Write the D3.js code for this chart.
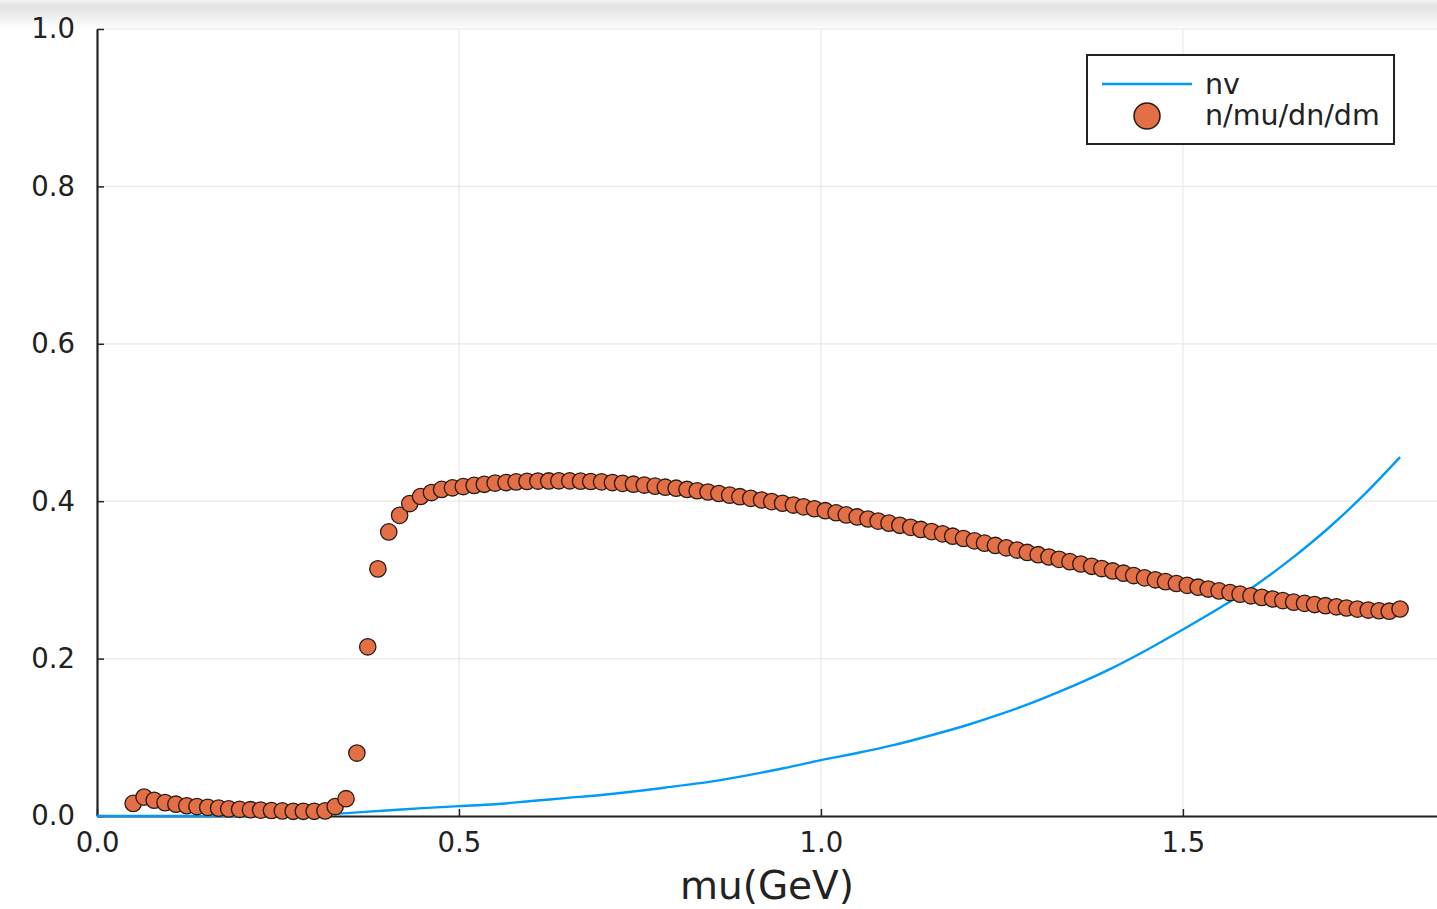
<!DOCTYPE html>
<html lang="en">
<head>
    <meta charset="UTF-8">
    <title>nv und n/mu/dn/dm</title>
    <script src="https://d3js.org/d3.v7.min.js"></script>
    <style>
        body {
            margin: 0;
            background: #fff;
        }
        svg {
            display: block;
            font-family: "DejaVu Sans", sans-serif;
        }
        .grid line {
            stroke: #e8e8e8;
            stroke-width: 1.2;
        }
        .axis path, .axis line {
            stroke: #222;
        }
        .axis text {
            fill: #222;
            font-size: 27.5px;
            font-family: "DejaVu Sans", sans-serif;
        }
    </style>
</head>
<body>
<div id="chart"></div>
<script>
    const width = 1437;
    const height = 909;

    // Achsen-Ticks
    const xTicks = [0.0, 0.5, 1.0, 1.5];
    const yTicks = [0.0, 0.2, 0.4, 0.6, 0.8, 1.0];

    // Serie 1: nv (Linie)
    const nvMu = [0.0, 0.05, 0.1, 0.15, 0.2, 0.25, 0.3, 0.35, 0.4, 0.45, 0.5, 0.55, 0.6, 0.65, 0.7, 0.75,
        0.8, 0.85, 0.9, 0.95, 1.0, 1.05, 1.1, 1.15, 1.2, 1.25, 1.3, 1.35, 1.4, 1.45, 1.5, 1.55,
        1.6, 1.65, 1.7, 1.75, 1.8];
    const nvValues = [0.0, 0.0, 0.0, 0.0, 0.0, 0.0, 0.001, 0.004, 0.007, 0.010, 0.0125, 0.015, 0.019, 0.023, 0.027, 0.032,
        0.038, 0.044, 0.052, 0.061, 0.071, 0.080, 0.090, 0.102, 0.115, 0.130, 0.147, 0.166, 0.187, 0.211, 0.237, 0.264,
        0.293, 0.327, 0.365, 0.408, 0.456];

    // Serie 2: n/mu/dn/dm (Punkte)
    const ratioMu = [0.050, 0.065, 0.079, 0.094, 0.109, 0.124, 0.138, 0.153, 0.168, 0.182,
        0.197, 0.212, 0.226, 0.241, 0.256, 0.271, 0.285, 0.300, 0.315, 0.329,
        0.344, 0.359, 0.374, 0.388, 0.403, 0.418, 0.432, 0.447, 0.462, 0.476,
        0.491, 0.506, 0.521, 0.535, 0.550, 0.565, 0.579, 0.594, 0.609, 0.624,
        0.638, 0.653, 0.668, 0.682, 0.697, 0.712, 0.726, 0.741, 0.756, 0.771,
        0.785, 0.800, 0.815, 0.829, 0.844, 0.859, 0.874, 0.888, 0.903, 0.918,
        0.932, 0.947, 0.962, 0.976, 0.991, 1.006, 1.021, 1.035, 1.050, 1.065,
        1.079, 1.094, 1.109, 1.124, 1.138, 1.153, 1.168, 1.182, 1.197, 1.212,
        1.226, 1.241, 1.256, 1.271, 1.285, 1.300, 1.315, 1.329, 1.344, 1.359,
        1.374, 1.388, 1.403, 1.418, 1.432, 1.447, 1.462, 1.476, 1.491, 1.506,
        1.521, 1.535, 1.550, 1.565, 1.579, 1.594, 1.609, 1.624, 1.638, 1.653,
        1.668, 1.682, 1.697, 1.712, 1.726, 1.741, 1.756, 1.771, 1.785, 1.800];
    const ratioValues = [0.016, 0.024, 0.020, 0.017, 0.015, 0.013, 0.012, 0.011, 0.010, 0.009,
        0.0085, 0.008, 0.0075, 0.007, 0.0065, 0.006, 0.006, 0.006, 0.0065, 0.012,
        0.022, 0.080, 0.215, 0.314, 0.361, 0.382, 0.397, 0.406, 0.411, 0.415,
        0.417, 0.4186, 0.4201, 0.4215, 0.4230, 0.4237, 0.4245, 0.4252, 0.4256, 0.4257,
        0.4259, 0.4259, 0.4255, 0.4250, 0.4246, 0.4237, 0.4227, 0.4216, 0.4205, 0.4191,
        0.4178, 0.4165, 0.4149, 0.4133, 0.4117, 0.4098, 0.4077, 0.4057, 0.4036, 0.4015,
        0.3995, 0.3974, 0.3951, 0.3928, 0.3904, 0.3879, 0.3853, 0.3826, 0.3800, 0.3774,
        0.3747, 0.3721, 0.3694, 0.3668, 0.3641, 0.3614, 0.3585, 0.3555, 0.3526, 0.3496,
        0.3467, 0.3438, 0.3408, 0.3379, 0.3349, 0.3320, 0.3291, 0.3261, 0.3232, 0.3202,
        0.3173, 0.3144, 0.3114, 0.3085, 0.3055, 0.3026, 0.3001, 0.2978, 0.2954, 0.2931,
        0.2907, 0.2884, 0.2860, 0.2839, 0.2819, 0.2798, 0.2778, 0.2757, 0.2737, 0.2717,
        0.2702, 0.2687, 0.2672, 0.2658, 0.2643, 0.2629, 0.2617, 0.2608, 0.2602, 0.2630];

    const seriesNames = ["nv", "n/mu/dn/dm"];
    const xTitle = "mu(GeV)";

    const lineColor = "#009af9";
    const dotColor = "#e26f46";

    const margin = {left: 97, right: 0, top: 29, bottom: 93};

    const svg = d3.select("#chart").append("svg")
        .attr("width", width)
        .attr("height", height);

    // grauer Verlauf oben (wie im Screenshot)
    const grad = svg.append("defs").append("linearGradient")
        .attr("id", "topShade")
        .attr("x1", 0).attr("y1", 0).attr("x2", 0).attr("y2", 1);
    grad.append("stop").attr("offset", "0%").attr("stop-color", "#f4f4f4");
    grad.append("stop").attr("offset", "20%").attr("stop-color", "#e2e2e2");
    grad.append("stop").attr("offset", "100%").attr("stop-color", "#ffffff");
    svg.append("rect")
        .attr("x", 0).attr("y", 0)
        .attr("width", width).attr("height", 30)
        .attr("fill", "url(#topShade)");

    const x = d3.scaleLinear()
        .domain([0, 1.851])
        .range([margin.left, width - margin.right]);

    const y = d3.scaleLinear()
        .domain([0, 1])
        .range([height - margin.bottom, margin.top]);

    // Gitterlinien
    svg.append("g")
        .attr("class", "grid")
        .selectAll("line.v")
        .data(xTicks.filter(d => d > 0))
        .join("line")
        .attr("x1", d => x(d)).attr("x2", d => x(d))
        .attr("y1", y(0)).attr("y2", y(1));

    svg.append("g")
        .attr("class", "grid")
        .selectAll("line.h")
        .data(yTicks.filter(d => d > 0))
        .join("line")
        .attr("x1", x(0)).attr("x2", width)
        .attr("y1", d => y(d)).attr("y2", d => y(d));

    // Achsen
    const xAxis = d3.axisBottom(x)
        .tickValues(xTicks)
        .tickFormat(d3.format(".1f"))
        .tickSizeInner(-7)
        .tickSizeOuter(0)
        .tickPadding(16);

    const yAxis = d3.axisLeft(y)
        .tickValues(yTicks)
        .tickFormat(d3.format(".1f"))
        .tickSizeInner(-7)
        .tickSizeOuter(0)
        .tickPadding(22);

    const gx = svg.append("g")
        .attr("class", "axis")
        .attr("transform", `translate(0, ${y(0)})`)
        .call(xAxis);
    gx.attr("font-family", null);
    gx.select(".domain").attr("stroke-width", 2.2);
    gx.selectAll(".tick line").attr("stroke-width", 1.5);

    const gy = svg.append("g")
        .attr("class", "axis")
        .attr("transform", `translate(${x(0)}, 0)`)
        .call(yAxis);
    gy.attr("font-family", null);
    gy.select(".domain").attr("stroke-width", 2.2);
    gy.selectAll(".tick line").attr("stroke-width", 1.5);

    // Achsentitel
    svg.append("text")
        .attr("x", (x.range()[0] + x.range()[1]) / 2)
        .attr("y", 899)
        .attr("text-anchor", "middle")
        .attr("font-size", "39px")
        .attr("fill", "#222")
        .text(xTitle);

    // nv Linie
    const nvData = nvMu.map((m, i) => ({mu: m, v: nvValues[i]}));
    svg.append("path")
        .datum(nvData)
        .attr("fill", "none")
        .attr("stroke", lineColor)
        .attr("stroke-width", 2.4)
        .attr("d", d3.line()
            .x(d => x(d.mu))
            .y(d => y(d.v))
            .curve(d3.curveMonotoneX));

    // n/mu/dn/dm Punkte
    const ratioData = ratioMu.map((m, i) => ({mu: m, v: ratioValues[i]}));
    svg.append("g")
        .selectAll("circle")
        .data(ratioData)
        .join("circle")
        .attr("cx", d => x(d.mu))
        .attr("cy", d => y(d.v))
        .attr("r", 8.2)
        .attr("fill", dotColor)
        .attr("stroke", "#2a1a14")
        .attr("stroke-width", 1.3);

    // Legende
    const legend = svg.append("g")
        .attr("transform", "translate(1087, 55)");

    legend.append("rect")
        .attr("width", 307)
        .attr("height", 89)
        .attr("fill", "#fff")
        .attr("stroke", "#222")
        .attr("stroke-width", 2);

    legend.append("line")
        .attr("x1", 15).attr("x2", 105)
        .attr("y1", 29).attr("y2", 29)
        .attr("stroke", lineColor)
        .attr("stroke-width", 2.4);

    legend.append("circle")
        .attr("cx", 60).attr("cy", 61)
        .attr("r", 13)
        .attr("fill", dotColor)
        .attr("stroke", "#2a1a14")
        .attr("stroke-width", 1.5);

    legend.selectAll("text.lab")
        .data(seriesNames)
        .join("text")
        .attr("x", 118)
        .attr("y", (d, i) => 39 + i * 31)
        .attr("font-size", "28.5px")
        .attr("fill", "#222")
        .text(d => d);
</script>
</body>
</html>
